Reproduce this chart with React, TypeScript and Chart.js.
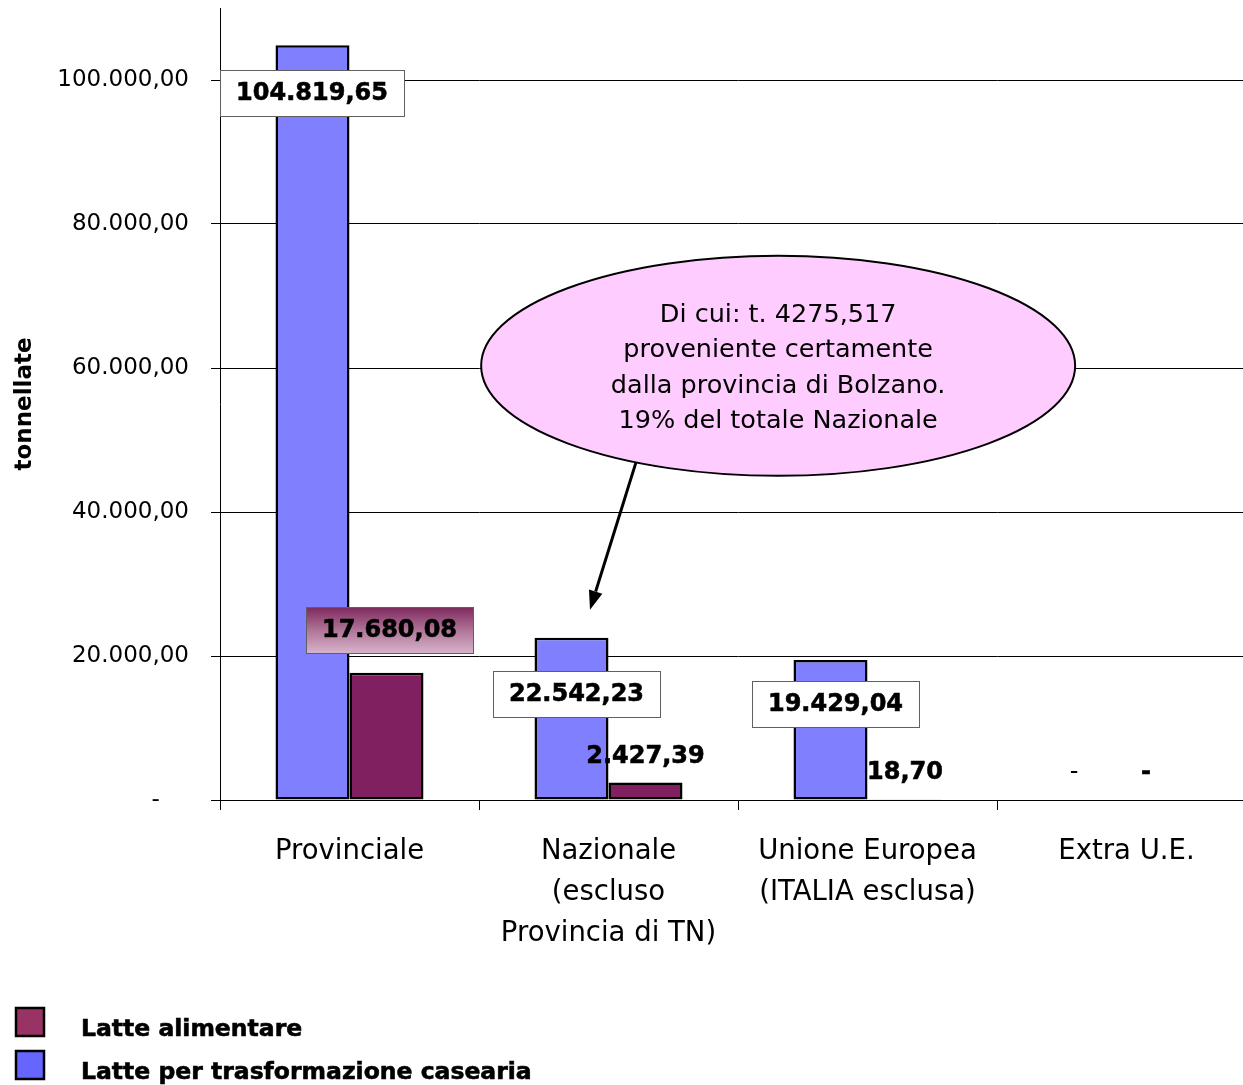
import React, { useEffect, useRef } from 'react';
import { Chart, registerables } from 'chart.js';

Chart.register(...registerables);

// ---- data ----
const categories: string[][] = [
  ['Provinciale'],
  ['Nazionale', '(escluso', 'Provincia di TN)'],
  ['Unione Europea', '(ITALIA esclusa)'],
  ['Extra U.E.'],
];
const seriesCasearia = 'Latte per trasformazione casearia';
const seriesAlimentare = 'Latte alimentare';
const valuesCasearia = [104819.65, 22542.23, 19429.04, 0];
const valuesAlimentare = [17680.08, 2427.39, 18.7, 0];
const yTickValues = [0, 20000, 40000, 60000, 80000, 100000];
const yMax = 110000;
const yTitle = 'tonnellate';
const noteLines = [
  'Di cui: t. 4275,517',
  'proveniente certamente',
  'dalla provincia di Bolzano.',
  '19% del totale Nazionale',
];
const noteCenter = { x: 1.655, y: 60300 };

// ---- styles ----
const FONT = '"DejaVu Sans", Verdana, sans-serif';
const colCasearia = '#8080FF';
const colAlimentare = '#802060';
const legendColCasearia = '#6666FF';
const legendColAlimentare = '#993366';

type LabelStyle = { dx: number; dy: number; box: null | 'white' | 'gradient'; weight?: string };
const labelStyles: LabelStyle[][] = [
  [
    { dx: -0.5, dy: 48.5, box: 'white' },
    { dx: 5, dy: 57.5, box: 'white' },
    { dx: 5, dy: 44.5, box: 'white' },
    { dx: -15.5, dy: -27.5, box: null, weight: 'normal' },
  ],
  [
    { dx: 3, dy: -41.5, box: 'gradient' },
    { dx: 0, dy: -26, box: null },
    { dx: 0.5, dy: -27.5, box: null },
    { dx: -17.5, dy: -27.5, box: null },
  ],
];

function fmt(v: number): string {
  if (v === 0) return '-';
  const [i, d] = v.toFixed(2).split('.');
  return i.replace(/\B(?=(\d{3})+(?!\d))/g, '.') + ',' + d;
}

const valueLabels = {
  id: 'valueLabels',
  afterDatasetsDraw(chart: any) {
    const ctx = chart.ctx;
    chart.data.datasets.forEach((ds: any, di: number) => {
      const meta = chart.getDatasetMeta(di);
      meta.data.forEach((el: any, i: number) => {
        const st = labelStyles[di][i];
        const text = fmt(ds.data[i]);
        const x = el.x + st.dx;
        const y = el.y + st.dy;
        ctx.save();
        ctx.font = `${st.weight === 'normal' ? '' : 'bold '}24px ${FONT}`;
        const w = ctx.measureText(text).width;
        if (st.box) {
          const bw = Math.round(w + 32);
          const bh = 46;
          const bx = Math.round(x - bw / 2) + 0.5;
          const by = Math.round(y - 1 - bh / 2) + 0.5;
          if (st.box === 'gradient') {
            const g = ctx.createLinearGradient(0, by, 0, by + bh);
            g.addColorStop(0, '#7E2A5E');
            g.addColorStop(0.5, '#B07598');
            g.addColorStop(1, '#D8B4CC');
            ctx.fillStyle = g;
          } else {
            ctx.fillStyle = '#ffffff';
          }
          ctx.fillRect(bx, by, bw, bh);
          ctx.strokeStyle = '#606060';
          ctx.lineWidth = 1;
          ctx.strokeRect(bx, by, bw, bh);
        }
        ctx.fillStyle = '#000';
        ctx.strokeStyle = '#000';
        ctx.lineWidth = st.weight === 'normal' ? 0 : 0.6;
        ctx.textAlign = 'center';
        ctx.textBaseline = 'middle';
        ctx.fillText(text, x, y);
        if (st.weight !== 'normal') ctx.strokeText(text, x, y);
        ctx.restore();
      });
    });
  },
};

const noteAnnotation = {
  id: 'noteAnnotation',
  afterDraw(chart: any) {
    const ctx = chart.ctx;
    const xs = chart.scales.x;
    const ys = chart.scales.y;
    const cx = xs.getPixelForValue(noteCenter.x);
    const cy = ys.getPixelForValue(noteCenter.y);
    const rx = 297;
    const ry = 110;
    ctx.save();
    ctx.beginPath();
    ctx.ellipse(cx, cy, rx, ry, 0, 0, Math.PI * 2);
    ctx.fillStyle = '#FFCCFF';
    ctx.fill();
    ctx.lineWidth = 2;
    ctx.strokeStyle = '#000';
    ctx.stroke();
    ctx.fillStyle = '#000';
    ctx.font = `25.5px ${FONT}`;
    ctx.textAlign = 'center';
    ctx.textBaseline = 'middle';
    const lh = 35.3;
    noteLines.forEach((ln, k) => {
      ctx.fillText(ln, cx, cy + 2.5 + (k - (noteLines.length - 1) / 2) * lh);
    });
    // arrow to the Nazionale bar
    const t = (118.6 * Math.PI) / 180;
    const sx = cx + rx * Math.cos(t);
    const sy = cy + ry * Math.sin(t);
    const bar = chart.getDatasetMeta(0).data[1];
    const tx = bar.x + 18.5;
    const ty = bar.y - 28;
    const ang = Math.atan2(ty - sy, tx - sx);
    const headLen = 19;
    const headW = 7;
    const bx = tx - headLen * Math.cos(ang);
    const by = ty - headLen * Math.sin(ang);
    ctx.beginPath();
    ctx.moveTo(sx, sy);
    ctx.lineTo(bx, by);
    ctx.lineWidth = 3;
    ctx.stroke();
    ctx.beginPath();
    ctx.moveTo(tx, ty);
    ctx.lineTo(bx + headW * Math.sin(ang), by - headW * Math.cos(ang));
    ctx.lineTo(bx - headW * Math.sin(ang), by + headW * Math.cos(ang));
    ctx.closePath();
    ctx.fill();
    ctx.restore();
  },
};

const customLegend = {
  id: 'customLegend',
  afterDraw(chart: any) {
    const ctx = chart.ctx;
    const items = [
      { label: chart.data.datasets[1].label, color: legendColAlimentare },
      { label: chart.data.datasets[0].label, color: legendColCasearia },
    ];
    ctx.save();
    items.forEach((it, k) => {
      const top = 1008 + k * 43;
      ctx.fillStyle = it.color;
      ctx.fillRect(16, top, 28, 28);
      ctx.strokeStyle = '#000';
      ctx.lineWidth = 2.5;
      ctx.strokeRect(16, top, 28, 28);
      ctx.fillStyle = '#000';
      ctx.font = `bold 23.5px ${FONT}`;
      ctx.textAlign = 'left';
      ctx.textBaseline = 'alphabetic';
      ctx.fillText(it.label, 81, top + 28);
      ctx.lineWidth = 0.6;
      ctx.strokeText(it.label, 81, top + 28);
    });
    ctx.restore();
  },
};

export default function App() {
  const ref = useRef<HTMLCanvasElement | null>(null);
  useEffect(() => {
    if (!ref.current) return;
    const chart = new Chart(ref.current, {
      type: 'bar',
      data: {
        labels: categories,
        datasets: [
          {
            label: seriesCasearia,
            data: valuesCasearia,
            backgroundColor: colCasearia,
            borderColor: '#000',
            borderWidth: 2.5,
            borderSkipped: false,
          },
          {
            label: seriesAlimentare,
            data: valuesAlimentare,
            backgroundColor: colAlimentare,
            borderColor: '#000',
            borderWidth: 2.5,
            borderSkipped: false,
          },
        ],
      },
      options: {
        animation: false,
        responsive: false,
        maintainAspectRatio: false,
        devicePixelRatio: 1,
        datasets: { bar: { categoryPercentage: 148 / 259, barPercentage: 1 } },
        layout: { padding: { top: 8, bottom: 135, left: 0, right: 0 } },
        plugins: { legend: { display: false }, tooltip: { enabled: false }, title: { display: false } },
        scales: {
          x: {
            grid: { display: true, drawOnChartArea: false, drawTicks: true, tickLength: 10, color: '#000', offset: true },
            border: { display: true, color: '#000', width: 1 },
            ticks: {
              color: '#000',
              font: { family: FONT, size: 27.5, lineHeight: 41 / 27.5 },
              padding: 21,
              maxRotation: 0,
              autoSkip: false,
            },
            afterFit: (s: any) => {
              s.height = 150;
              s.paddingLeft = 0;
              s.paddingRight = 0;
            },
          },
          y: {
            min: 0,
            max: yMax,
            afterBuildTicks: (s: any) => {
              s.ticks = yTickValues.map((v) => ({ value: v }));
            },
            grid: { color: '#000', lineWidth: 1, drawTicks: true, tickLength: 9 },
            border: { display: true, color: '#000', width: 1 },
            ticks: {
              color: '#000',
              font: { family: FONT, size: 23 },
              padding: 22,
              callback: (v: any) => (Number(v) === 0 ? '-\u2007\u2007' : fmt(Number(v))),
            },
            title: {
              display: true,
              text: yTitle,
              color: '#000',
              font: { family: FONT, size: 23, weight: 'bold' },
              padding: { top: 11, bottom: 0 },
            },
            afterFit: (s: any) => {
              s.width = 220;
              s.paddingTop = 0;
              s.paddingBottom = 0;
            },
          },
        },
      },
      plugins: [valueLabels, noteAnnotation, customLegend],
    } as any);
    return () => chart.destroy();
  }, []);
  return (
    <div style={{ position: 'absolute', left: 0, top: 0, width: 1243, height: 1085, overflow: 'hidden', background: '#fff' }}>
      <canvas ref={ref} width={1256} height={1085} style={{ display: 'block' }} />
    </div>
  );
}
